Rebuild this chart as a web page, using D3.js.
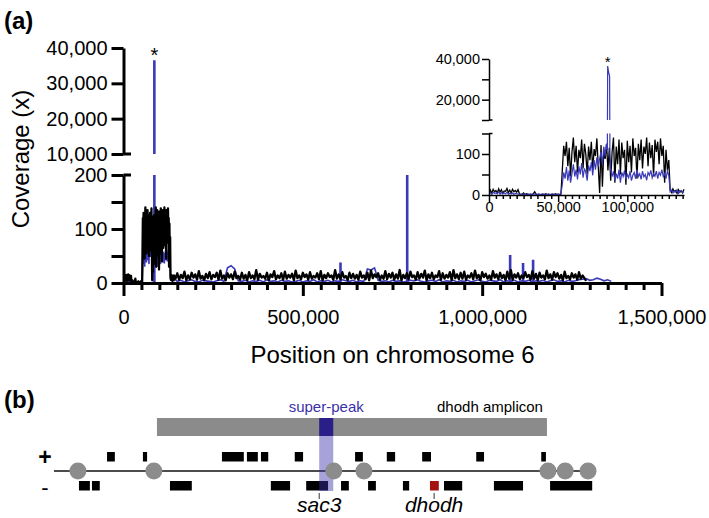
<!DOCTYPE html>
<html><head><meta charset="utf-8">
<script src="https://cdn.jsdelivr.net/npm/d3@7"></script>
<style>
body{margin:0;background:#fff}
svg{display:block;font-family:"Liberation Sans",Arial,Helvetica,sans-serif}
</style></head><body>
<svg id="c" width="709" height="518"></svg>
<script>
// ---------- DATA ----------
// Coverage, 0..141 kb at 1 kb steps (inset region)
const blackInset = [6,12,4,14,8,11,5,15,7,13,4,10,9,16,6,12,5,14,8,11,7,13,
 3,1,2,5,1,3,2,1,2,1,3,8,2,1,2,1,1,2,1,3,1,2,1,1,2,1,3,1,2,1,2,
 60,120,95,130,70,115,45,105,140,80,120,55,110,90,135,65,125,100,50,118,85,130,60,112,95,138,70,5,122,20,108,88,125,60,115,35,105,140,30,118,75,135,50,128,90,110,25,132,80,120,55,138,95,115,40,125,85,135,65,118,100,140,70,128,90,122,45,135,105,130,75,138,95,120,30,110,60,85,
 12,6,15,8,11,4,13,7,10,5,14];
const blueInset = [3,6,2,7,4,5,3,8,2,6,4,5,3,7,2,4,3,5,2,4,3,2,
 2,1,2,2,1,2,2,1,2,1,2,3,2,1,2,1,2,2,1,2,1,2,1,2,2,1,2,1,2,1,3,
 25,55,40,68,35,60,30,52,75,45,62,38,70,50,78,42,65,55,35,72,58,80,48,85,62,92,70,88,105,75,118,95,125,
 110,90,60,45,58,35,52,40,62,30,55,45,60,38,50,42,58,35,48,55,40,62,45,52,38,58,44,50,36,55,48,60,42,52,46,58,40,55,48,62,45,52,40,58,48,
 8,12,5,10,7,13,4,9,11,6,8];
const insetStep = 1000;
// super-peak in inset (position, coverage)
const insetSpikePos = [85600, 85800, 86500, 87200, 87400];
const insetSpikeVal = [110, 36500, 33500, 31500, 100];

// Rest of chromosome: black at 5 kb steps from 145 kb, blue at 10 kb steps from 150 kb
const blackRestStart = 145000, blackRestStep = 5000;
const blackRest = [
 8,18,6,15,9,21,5,14,7,19,10,16,6,22,8,13,5,17,9,20,
 7,15,11,19,6,23,8,14,5,18,10,16,7,21,9,13,6,19,8,15,
 5,20,9,14,7,24,6,17,10,13,8,19,5,16,11,22,7,14,9,18,
 6,21,8,15,10,17,5,23,9,14,7,19,11,16,6,20,8,13,10,18,
 7,22,5,15,9,18,11,14,6,24,8,16,7,20,10,13,5,19,9,17,
 8,15,6,21,10,14,7,19,5,23,9,16,11,18,6,14,8,22,7,17,
 10,19,6,16,8,24,5,15,9,18,7,21,11,14,6,20,8,17,10,23,
 5,16,9,19,7,14,11,22,6,18,8,15,10,20,5,24,9,16,7,19,
 8,21,6,14,10,18,7,23,9,15,5,20,11,17,8,14,6,22,10,16,
 7,19,9,15,5,21,8,24,6,16,10,18,7,14,9,20,11,15,6,22,
 8,17,5,19,10,14,7,23,9,16,6,20,11,18,8,15,5,21,9,13,
 7,18,10,16,6,20,8,14,9,4];
const blueRestStart = 150000, blueRestStep = 10000;
const blueRest = [
 3,5,2,4,6,3,2,5,4,3,2,4,6,3,28,32,26,4,3,5,
 2,4,3,5,2,6,3,4,2,5,3,4,2,3,5,2,4,3,6,2,
 4,3,5,2,4,3,6,4,3,5,2,4,3,26,24,28,5,3,4,2,
 5,3,4,2,3,5,4,6,3,2,4,5,3,6,2,4,3,5,2,4,
 3,5,2,4,6,3,2,5,4,3,6,2,4,3,5,2,4,3,5,2,
 4,3,5,2,4,6,3,4,2,5,3,4,6,7,8,5,6,9,7,4,
 6,3];
// narrow blue spikes in the main panel
const mainSpikePos = [86000, 605000, 791000, 1078000, 1114000, 1142000];
const mainSpikeVal = [36500, 38, 240, 52, 37, 43];

// axis ticks
const mainXTicks = d3.range(0, 1500001, 50000);
const mainXLabels = [0, 500000, 1000000, 1500000];
const mainYLowTicks = [0, 50, 100, 150, 200];
const mainYLowLabels = [0, 100, 200];
const mainYHighTicks = [10000, 20000, 30000, 40000];
const insetXTicks = d3.range(0, 140001, 5000);
const insetXLabels = [0, 50000, 100000];
const insetYLowTicks = [0, 50, 100, 150];
const insetYLowLabels = [0, 100];
const insetYHighTicks = [10000, 20000, 30000, 40000];
const insetYHighLabels = [20000, 40000];

// Panel (b): coordinates in kb on chromosome 6
const ampliconRange = [54.8, 129.8];
const superPeakRange = [86.0, 88.7];
const backboneRange = [35.0, 137.7];
const circlePos = [39.6, 54.2, 88.8, 94.6, 130.0, 133.3, 137.7];
const plusGenes = [[45.2,46.7],[52.1,52.9],[67.3,71.5],[72.1,74.2],[74.8,76.2],[81.3,82.9],[92.9,94.4],[99.0,100.6],[105.8,107.5],[116.2,117.7],[128.7,129.6]];
const minusGenes = [[39.8,41.9],[42.3,43.8],[57.3,61.5],[76.7,80.4],[83.5,87.7],[90.2,91.7],[95.4,96.9],[102.1,103.3],[107.3,109.0],[110.0,113.5],[119.6,125.2],[130.4,138.5]];
const highlightGene = 8; // index in minusGenes: dhodh
const geneLabels = ["sac3", "dhodh"];
const geneLabelPos = [86.0, 108.1];

// ---------- BUILD ----------
const BLUE = "#3a3ab8";
const svg = d3.select("#c");
const defs = svg.append("defs");
function clip(id, x, y, w, h){ defs.append("clipPath").attr("id", id).append("rect").attr("x",x).attr("y",y).attr("width",w).attr("height",h); return "url(#"+id+")"; }

const mainBlack = blackInset.map((v,i)=>[i*insetStep, v]).concat(blackRest.map((v,i)=>[blackRestStart+i*blackRestStep, v]));
const mainBlue = blueInset.map((v,i)=>[i*insetStep, v]).concat(blueRest.map((v,i)=>[blueRestStart+i*blueRestStep, v]));
const insetBlack = blackInset.map((v,i)=>[i*insetStep, v]);
const insetBlue = blueInset.map((v,i)=>[i*insetStep, v])
  .filter(d => d[0] < insetSpikePos[0]-100 || d[0] > insetSpikePos[insetSpikePos.length-1]+100)
  .concat(insetSpikePos.map((p,i)=>[p, insetSpikeVal[i]]))
  .sort((a,b)=>a[0]-b[0]);

// labels
svg.append("text").attr("x",4).attr("y",29).attr("font-size",24).attr("font-weight","bold").text("(a)");
svg.append("text").attr("x",4).attr("y",408).attr("font-size",24).attr("font-weight","bold").text("(b)");

// ---- main panel ----
const x = d3.scaleLinear().domain([0,1500000]).range([123.5,661.5]);
const yLo = d3.scaleLinear().domain([0,200]).range([283,175]);
const yHi = d3.scaleLinear().domain([10000,40000]).range([154,48]);
const cLo = clip("mlo", 123.5, 175, 540, 112);
const cHi = clip("mhi", 123.5, 40, 540, 114);

const lineLo = d3.line().x(d=>x(d[0])).y(d=>yLo(d[1]));
const gLo = svg.append("g").attr("clip-path", cLo);
gLo.append("path").datum(mainBlue).attr("d", lineLo).attr("fill","none").attr("stroke",BLUE).attr("stroke-width",1.6);
gLo.selectAll("line.sp").data(mainSpikePos).join("line").attr("class","sp")
  .attr("x1",d=>x(d)).attr("x2",d=>x(d)).attr("y1",yLo(0)).attr("y2",(d,i)=>yLo(mainSpikeVal[i]))
  .attr("stroke",BLUE).attr("stroke-width",2.6);
gLo.append("path").datum(mainBlack).attr("d", lineLo).attr("fill","none").attr("stroke","#000").attr("stroke-width",2.3).attr("stroke-linejoin","round");
const gHi = svg.append("g").attr("clip-path", cHi);
gHi.selectAll("line.sp").data(mainSpikePos).join("line").attr("class","sp")
  .attr("x1",d=>x(d)).attr("x2",d=>x(d)).attr("y1",yHi(0)).attr("y2",(d,i)=>yHi(mainSpikeVal[i]))
  .attr("stroke",BLUE).attr("stroke-width",2.6);

function styleAxis(g, sw, fs){
  g.select(".domain").attr("stroke","#000").attr("stroke-width",sw);
  g.selectAll(".tick line").attr("stroke","#000").attr("stroke-width",sw);
  g.selectAll(".tick text").attr("fill","#000").attr("font-size",fs).attr("font-family",'"Liberation Sans",Arial,sans-serif');
}
const fmt = d3.format(",");
// x axis
const gx = svg.append("g").attr("transform","translate(0,283)")
  .call(d3.axisBottom(x).tickValues(mainXTicks).tickSize(7).tickSizeOuter(0)
    .tickFormat(d => mainXLabels.includes(d) ? fmt(d) : ""));
styleAxis(gx, 3, 20);
gx.selectAll(".tick").filter(d=>mainXLabels.includes(d)).select("line").attr("y2",13);
gx.selectAll(".tick text").attr("y",41).attr("dy",0);
// y low
const gyl = svg.append("g").attr("transform","translate(123.5,0)")
  .call(d3.axisLeft(yLo).tickValues(mainYLowTicks).tickSize(12).tickSizeOuter(0).tickPadding(4)
    .tickFormat(d => mainYLowLabels.includes(d) ? fmt(d) : ""));
styleAxis(gyl, 3, 20);
const gyh = svg.append("g").attr("transform","translate(123.5,0)")
  .call(d3.axisLeft(yHi).tickValues(mainYHighTicks).tickSize(12).tickSizeOuter(0).tickPadding(4).tickFormat(fmt));
styleAxis(gyh, 3, 20);
// break caps
[yLo(200), yHi(10000)].forEach(yy => svg.append("line").attr("x1",123.5).attr("x2",131).attr("y1",yy).attr("y2",yy).attr("stroke","#000").attr("stroke-width",3));
svg.append("text").attr("x",x(mainSpikePos[0])).attr("y",62).attr("text-anchor","middle").attr("font-size",20).text("*");
svg.append("text").attr("transform","translate(29,159) rotate(-90)").attr("text-anchor","middle").attr("font-size",24).text("Coverage (x)");
svg.append("text").attr("x",392.5).attr("y",363).attr("text-anchor","middle").attr("font-size",24).text("Position on chromosome 6");

// ---- inset ----
const xi = d3.scaleLinear().domain([0,141000]).range([489,684]);
const yiLo = d3.scaleLinear().domain([0,150]).range([195,133.5]);
const yiHi = d3.scaleLinear().domain([10000,40000]).range([120,59]);
const ciLo = clip("ilo", 489, 133.5, 196, 63);
const ciHi = clip("ihi", 489, 50, 196, 70);
const liLo = d3.line().x(d=>xi(d[0])).y(d=>yiLo(d[1]));
const liHi = d3.line().x(d=>xi(d[0])).y(d=>yiHi(d[1]));
const giLo = svg.append("g").attr("clip-path", ciLo);
giLo.append("path").datum(insetBlack).attr("d", liLo).attr("fill","none").attr("stroke","#000").attr("stroke-width",1.3);
giLo.append("path").datum(insetBlue).attr("d", liLo).attr("fill","none").attr("stroke",BLUE).attr("stroke-width",1.2);
svg.append("g").attr("clip-path", ciHi).append("path").datum(insetBlue).attr("d", liHi).attr("fill","none").attr("stroke",BLUE).attr("stroke-width",1.2);

const gix = svg.append("g").attr("transform","translate(0,195)")
  .call(d3.axisBottom(xi).tickValues(insetXTicks).tickSize(4).tickSizeOuter(0)
    .tickFormat(d => insetXLabels.includes(d) ? fmt(d) : ""));
styleAxis(gix, 1.5, 14.5);
gix.selectAll(".tick").filter(d=>insetXLabels.includes(d)).select("line").attr("y2",7);
gix.selectAll(".tick text").attr("y",17).attr("dy",0);
const giyl = svg.append("g").attr("transform","translate(489,0)")
  .call(d3.axisLeft(yiLo).tickValues(insetYLowTicks).tickSize(7).tickSizeOuter(0).tickPadding(2)
    .tickFormat(d => insetYLowLabels.includes(d) ? fmt(d) : ""));
styleAxis(giyl, 1.5, 14.5);
const giyh = svg.append("g").attr("transform","translate(489,0)")
  .call(d3.axisLeft(yiHi).tickValues(insetYHighTicks).tickSize(7).tickSizeOuter(0).tickPadding(2)
    .tickFormat(d => insetYHighLabels.includes(d) ? fmt(d) : ""));
styleAxis(giyh, 1.5, 14.5);
[yiLo(150), yiHi(10000)].forEach(yy => svg.append("line").attr("x1",489).attr("x2",492.5).attr("y1",yy).attr("y2",yy).attr("stroke","#000").attr("stroke-width",1.5));
svg.append("text").attr("x",xi(insetSpikePos[1])).attr("y",67).attr("text-anchor","middle").attr("font-size",15).text("*");

// ---- panel b ----
const bx = d3.scaleLinear().domain([35,138]).range([54,589.6]);
const gb = svg.append("g");
gb.append("rect").attr("x",bx(ampliconRange[0])).attr("y",418).attr("width",bx(ampliconRange[1])-bx(ampliconRange[0])).attr("height",18).attr("fill","#8b8b8b");
gb.append("rect").attr("x",bx(superPeakRange[0])).attr("y",418).attr("width",bx(superPeakRange[1])-bx(superPeakRange[0])).attr("height",18).attr("fill","#2a1f88");
gb.append("text").attr("x",(bx(superPeakRange[0])+bx(superPeakRange[1]))/2).attr("y",412).attr("text-anchor","middle").attr("font-size",15).attr("fill","#3a30a8").text("super-peak");
gb.append("text").attr("x",bx(ampliconRange[1])-4).attr("y",412).attr("text-anchor","end").attr("font-size",15).attr("fill","#000").text("dhodh amplicon");
gb.append("line").attr("x1",bx(backboneRange[0])).attr("x2",bx(backboneRange[1])).attr("y1",471).attr("y2",471).attr("stroke","#111").attr("stroke-width",1.5);
gb.selectAll("rect.pg").data(plusGenes).join("rect").attr("class","pg")
  .attr("x",d=>bx(d[0])).attr("width",d=>bx(d[1])-bx(d[0])).attr("y",452).attr("height",9.5).attr("fill","#000");
gb.selectAll("rect.mg").data(minusGenes).join("rect").attr("class","mg")
  .attr("x",d=>bx(d[0])).attr("width",d=>bx(d[1])-bx(d[0])).attr("y",481).attr("height",9.5)
  .attr("fill",(d,i)=> i===highlightGene ? "#a3140f" : "#000");
gb.append("rect").attr("x",bx(superPeakRange[0])).attr("y",436).attr("width",bx(superPeakRange[1])-bx(superPeakRange[0])).attr("height",55).attr("fill","rgb(60,50,170)").attr("opacity",0.45);
gb.selectAll("circle").data(circlePos).join("circle").attr("cx",d=>bx(d)).attr("cy",471).attr("r",8.5).attr("fill","#8c8c8c");
gb.append("text").attr("x",45).attr("y",465).attr("text-anchor","middle").attr("font-size",23).attr("font-weight","bold").text("+");
gb.append("text").attr("x",45).attr("y",495).attr("text-anchor","middle").attr("font-size",22).text("-");
geneLabelPos.forEach((p,i)=>{
  gb.append("line").attr("x1",bx(p)).attr("x2",bx(p)).attr("y1",493).attr("y2",499).attr("stroke","#333").attr("stroke-width",1);
  gb.append("text").attr("x",bx(p)).attr("y",512).attr("text-anchor","middle").attr("font-size",21).attr("font-style","italic").text(geneLabels[i]);
});
</script></body></html>
